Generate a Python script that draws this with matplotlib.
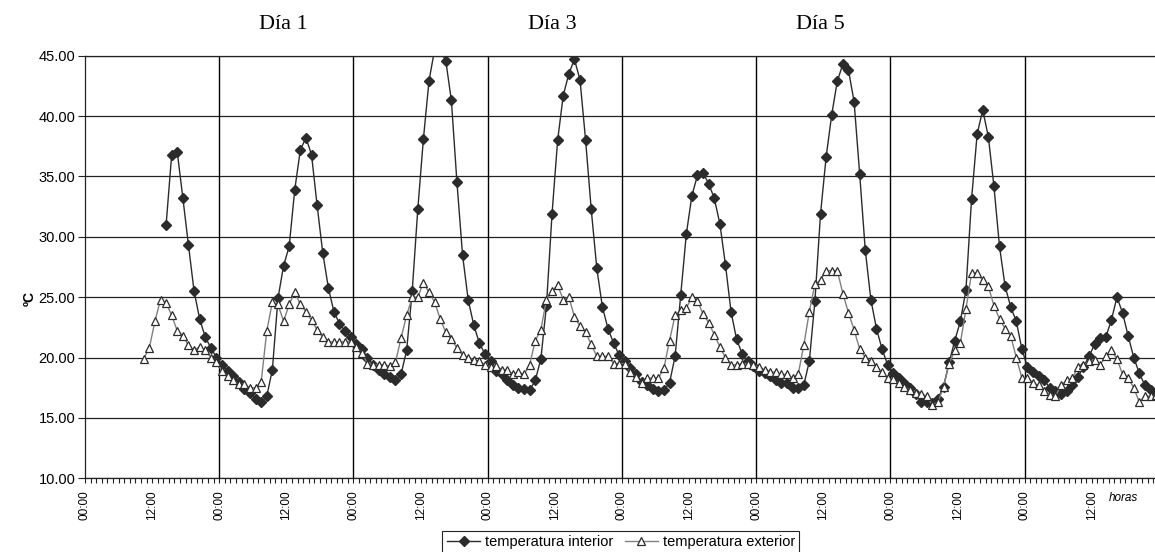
import numpy as np
import matplotlib
matplotlib.use('Agg')
import matplotlib.pyplot as plt
from matplotlib.transforms import blended_transform_factory

nan = np.nan

# hourly values (index = hour since first 00:00)
interior = [nan] * 14 + [
    31.0, 36.8, 37.0, 33.2, 29.3, 25.5, 23.2, 21.7, 20.8, 20.0,            # 14-23
    19.4, 18.9, 18.5, 18.0, 17.4, 17.1, 16.6, 16.3, 16.8, 19.0,            # 24-33
    24.9, 27.6, 29.2, 33.9, 37.2, 38.2, 36.8, 32.6, 28.7, 25.8,            # 34-43
    23.8, 22.8, 22.2, 21.7, 21.1, 20.7, 20.0, 19.4, 19.0, 18.6,            # 44-53
    18.4, 18.1, 18.6, 20.6, 25.5, 32.3, 38.1, 42.9, 45.5, 45.4,            # 54-63
    44.6, 41.3, 34.5, 28.5, 24.8, 22.7, 21.2, 20.3, 19.7, 18.9,            # 64-73
    18.6, 18.1, 17.7, 17.5, 17.4, 17.3, 18.1, 19.9, 24.3, 31.9,            # 74-83
    38.0, 41.7, 43.5, 44.7, 43.0, 38.0, 32.3, 27.4, 24.2, 22.4,            # 84-93
    21.2, 20.2, 19.7, 19.1, 18.6, 18.0, 17.7, 17.4, 17.2, 17.3,            # 94-103
    17.9, 20.1, 25.2, 30.2, 33.4, 35.1, 35.3, 34.4, 33.2, 31.1,            # 104-113
    27.7, 23.8, 21.5, 20.3, 19.7, 19.3, 18.9, 18.7, 18.5, 18.1,            # 114-123
    17.9, 17.9, 17.5, 17.5, 17.7, 19.7, 24.7, 31.9, 36.6, 40.1,            # 124-133
    42.9, 44.3, 43.8, 41.2, 35.2, 28.9, 24.8, 22.4, 20.7, 19.4,            # 134-143
    18.7, 18.3, 17.9, 17.5, 17.0, 16.3, 16.3, 16.2, 16.6, 17.6,            # 144-153
    19.6, 21.4, 23.0, 25.6, 33.1, 38.5, 40.5, 38.3, 34.2, 29.2,            # 154-163
    25.9, 24.2, 23.0, 20.7, 19.2, 18.8, 18.5, 18.1, 17.5, 17.2,            # 164-173
    17.0, 17.2, 17.7, 18.4, 19.2, 20.1, 21.1, 21.6, 21.7, 23.1,            # 174-183
    25.0, 23.7, 21.8, 20.0, 18.7, 17.7, 17.3, 16.8,                        # 184-191
]

exterior = [nan] * 10 + [
    19.9, 20.8, 23.0, 24.8, 24.5, 23.5, 22.2, 21.8, 21.0, 20.6,            # 10-19
    20.9, 20.6, 20.0, 19.6, 18.9, 18.5, 18.1, 17.8, 17.8, 17.5,            # 20-29
    17.5, 18.0, 22.2, 24.6, 24.4, 23.0, 24.4, 25.4, 24.4, 23.8,            # 30-39
    23.1, 22.3, 21.7, 21.3, 21.3, 21.3, 21.3, 21.3, 20.9, 20.4,            # 40-49
    19.5, 19.4, 19.4, 19.4, 19.3, 19.6, 21.6, 23.5, 25.0, 25.0,            # 50-59
    26.2, 25.4, 24.6, 23.2, 22.1, 21.5, 20.8, 20.2, 20.0, 19.8,            # 60-69
    19.7, 19.4, 19.2, 19.3, 19.0, 19.0, 18.6, 18.8, 18.6, 19.4,            # 70-79
    21.4, 22.3, 24.8, 25.5, 26.0, 24.8, 25.0, 23.4, 22.6, 22.1,            # 80-89
    21.1, 20.1, 20.1, 20.1, 19.5, 19.5, 19.5, 18.8, 18.4, 17.9,            # 90-99
    18.3, 18.3, 18.3, 19.1, 21.4, 23.5, 23.9, 24.1, 25.0, 24.7,            # 100-109
    23.6, 22.9, 21.9, 20.9, 20.0, 19.4, 19.4, 19.5, 19.5, 19.4,            # 110-119
    19.2, 19.0, 18.8, 18.8, 18.6, 18.6, 18.3, 18.6, 21.0, 23.8,            # 120-129
    26.1, 26.4, 27.2, 27.2, 27.2, 25.3, 23.7, 22.3, 20.7, 20.0,            # 130-139
    19.7, 19.2, 18.8, 18.3, 18.2, 17.9, 17.6, 17.3, 17.1, 17.0,            # 140-149
    16.8, 16.1, 16.3, 17.6, 19.5, 20.6, 21.2, 24.0, 27.0, 27.0,            # 150-159
    26.4, 25.9, 24.3, 23.2, 22.4, 21.8, 20.0, 18.3, 18.3, 17.9,            # 160-169
    17.7, 17.2, 16.9, 16.8, 17.7, 18.1, 18.3, 19.2, 19.4, 19.7,            # 170-179
    19.8, 19.4, 20.1, 20.6, 19.9, 18.6, 18.3, 17.5, 16.3, 16.8,            # 180-189
    16.8, 16.9,                                                            # 190-191
]

tick_hours = list(range(0, 192, 12))
tick_labels = ['00:00' if h % 24 == 0 else '12:00' for h in tick_hours]
day_hours = list(range(24, 192, 24))
y_ticks = [10, 15, 20, 25, 30, 35, 40, 45]
day_titles = ['Día 1', 'Día 3', 'Día 5']
day_title_hours = [35.5, 83.5, 131.5]

plt.rcParams['font.family'] = ['Liberation Sans', 'DejaVu Sans']

W, H = 1155, 552
fig = plt.figure(figsize=(W / 100, H / 100), dpi=100)
left, right, top, bottom = 85, 1155, 55.7, 478.3
ax = fig.add_axes([left / W, 1 - bottom / H, (right - left) / W, (bottom - top) / H])

x = np.arange(len(interior)) + 0.5
xe = np.arange(len(exterior)) + 0.5

ax.plot(x, interior, color='#2b2b2b', lw=1.0, marker='D', ms=5,
        mfc='#2b2b2b', mec='#2b2b2b', label='temperatura interior', zorder=3)
ax.plot(xe, exterior, color='#808080', lw=1.0, marker='^', ms=6.3,
        mfc='white', mec='#2b2b2b', mew=0.9, label='temperatura exterior', zorder=4)

ax.set_xlim(0, 191.3)
ax.set_ylim(10, 45)

ax.set_yticks(y_ticks)
ax.set_yticklabels([f'{v:.2f}' for v in y_ticks])
ax.yaxis.grid(True, color='#222222', lw=0.9)
ax.set_axisbelow(True)
for h in day_hours:
    ax.axvline(h, color='black', lw=1.0, zorder=1)

ax.set_xticks(tick_hours)
ax.set_xticklabels(tick_labels)
ax.set_xticks(np.arange(0, 192, 1), minor=True)
ax.tick_params(axis='x', which='both', direction='out', length=3.5, width=0.8,
               labelsize=8.5, pad=5, labelrotation=90, color='#222222')
ax.tick_params(axis='y', which='both', direction='out', length=5, width=0.8,
               labelsize=10.5, pad=2, color='#222222')

for s in ['left', 'bottom', 'top']:
    ax.spines[s].set_color('#222222')
    ax.spines[s].set_linewidth(0.9)
ax.spines['right'].set_visible(False)

trans = blended_transform_factory(ax.transData, ax.transAxes)
for t, h in zip(day_titles, day_title_hours):
    ax.text(h, 1 + (top - 24) / (bottom - top), t, transform=trans, ha='center',
            va='center', fontsize=16, family='Liberation Serif', clip_on=False)

fig.text(30 / W, 1 - 298 / H, 'ºC', rotation=90, fontweight='bold', fontsize=10,
         ha='center', va='center')
fig.text(1123 / W, 1 - 498 / H, 'horas', style='italic', fontsize=8.5,
         ha='center', va='center')

handles, labels = ax.get_legend_handles_labels()
leg = fig.legend(handles, labels, loc='upper center',
                 bbox_to_anchor=(620.8 / W, 1 - 530.7 / H), ncol=2, frameon=True,
                 fancybox=False, edgecolor='#222222', fontsize=10.5,
                 handlelength=2.3, handletextpad=0.3, columnspacing=0.8,
                 borderpad=0.3, borderaxespad=0, framealpha=1)
leg.get_frame().set_linewidth(0.8)

fig.savefig('out.png', dpi=100)
